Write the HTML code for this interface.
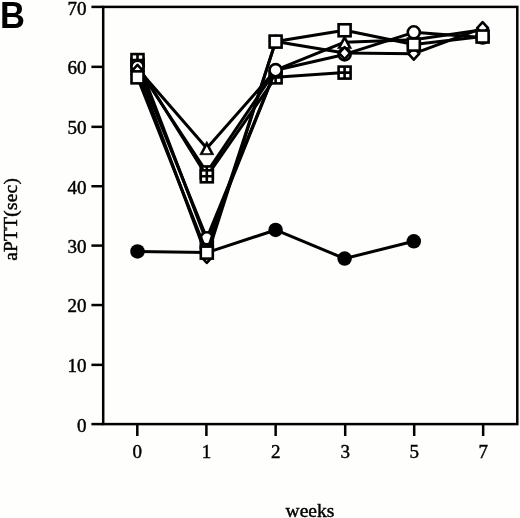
<!DOCTYPE html>
<html><head><meta charset="utf-8"><style>
html,body{margin:0;padding:0;background:#fefefc;}
body{width:520px;height:518px;overflow:hidden;}
svg{display:block;will-change:transform;}
.t{font-family:"Liberation Serif",serif;font-size:19px;fill:#000;stroke:#000;stroke-width:0.45px;}
.yl{font-family:"Liberation Serif",serif;font-size:19.3px;letter-spacing:0.3px;fill:#000;stroke:#000;stroke-width:0.45px;}
.xl{font-family:"Liberation Serif",serif;font-size:19.5px;fill:#000;stroke:#000;stroke-width:0.45px;}
.B{font-family:"Liberation Sans",sans-serif;font-weight:bold;font-size:36px;fill:#000;}
</style></head><body>
<svg width="520" height="518" viewBox="0 0 520 518">
<rect x="103.2" y="6.9" width="414.1" height="417.2" fill="none" stroke="#000" stroke-width="2.5"/>
<line x1="91.4" y1="424.10" x2="103.2" y2="424.10" stroke="#000" stroke-width="2.5"/>
<text x="86.6" y="431.50" text-anchor="end" class="t">0</text>
<line x1="91.4" y1="364.85" x2="103.2" y2="364.85" stroke="#000" stroke-width="2.5"/>
<text x="86.6" y="372.25" text-anchor="end" class="t">10</text>
<line x1="91.4" y1="305.04" x2="103.2" y2="305.04" stroke="#000" stroke-width="2.5"/>
<text x="86.6" y="312.44" text-anchor="end" class="t">20</text>
<line x1="91.4" y1="245.60" x2="103.2" y2="245.60" stroke="#000" stroke-width="2.5"/>
<text x="86.6" y="253.00" text-anchor="end" class="t">30</text>
<line x1="91.4" y1="186.23" x2="103.2" y2="186.23" stroke="#000" stroke-width="2.5"/>
<text x="86.6" y="193.63" text-anchor="end" class="t">40</text>
<line x1="91.4" y1="126.85" x2="103.2" y2="126.85" stroke="#000" stroke-width="2.5"/>
<text x="86.6" y="134.25" text-anchor="end" class="t">50</text>
<line x1="91.4" y1="66.85" x2="103.2" y2="66.85" stroke="#000" stroke-width="2.5"/>
<text x="86.6" y="74.25" text-anchor="end" class="t">60</text>
<line x1="91.4" y1="6.90" x2="103.2" y2="6.90" stroke="#000" stroke-width="2.5"/>
<text x="86.6" y="14.90" text-anchor="end" class="t">70</text>
<line x1="137.30" y1="424.1" x2="137.30" y2="436.0" stroke="#000" stroke-width="2.5"/>
<text x="137.30" y="457.6" text-anchor="middle" class="t">0</text>
<line x1="206.40" y1="424.1" x2="206.40" y2="436.0" stroke="#000" stroke-width="2.5"/>
<text x="206.40" y="457.6" text-anchor="middle" class="t">1</text>
<line x1="275.65" y1="424.1" x2="275.65" y2="436.0" stroke="#000" stroke-width="2.5"/>
<text x="275.65" y="457.6" text-anchor="middle" class="t">2</text>
<line x1="345.20" y1="424.1" x2="345.20" y2="436.0" stroke="#000" stroke-width="2.5"/>
<text x="345.20" y="457.6" text-anchor="middle" class="t">3</text>
<line x1="414.20" y1="424.1" x2="414.20" y2="436.0" stroke="#000" stroke-width="2.5"/>
<text x="414.20" y="457.6" text-anchor="middle" class="t">5</text>
<line x1="483.15" y1="424.1" x2="483.15" y2="436.0" stroke="#000" stroke-width="2.5"/>
<text x="483.15" y="457.6" text-anchor="middle" class="t">7</text>
<polyline points="137.50,251.43 206.80,252.62 275.60,229.97 344.60,258.58 413.80,241.30" fill="none" stroke="#000" stroke-width="3.00" stroke-linejoin="round"/>
<circle cx="137.50" cy="251.43" r="7.25" fill="#000"/>
<circle cx="206.80" cy="252.62" r="7.25" fill="#000"/>
<circle cx="275.60" cy="229.97" r="7.25" fill="#000"/>
<circle cx="344.60" cy="258.58" r="7.25" fill="#000"/>
<circle cx="413.80" cy="241.30" r="7.25" fill="#000"/>
<polyline points="137.50,67.24 206.80,172.45 275.60,70.22" fill="none" stroke="#000" stroke-width="3.00" stroke-linejoin="round"/>
<rect x="200.80" y="166.45" width="12.00" height="12.00" fill="#fff" stroke="#000" stroke-width="2.60"/><path d="M206.80 166.45V178.45M200.80 172.45H212.80" stroke="#000" stroke-width="2.60"/>
<polyline points="137.50,65.03 206.80,176.32 275.60,77.37 344.60,72.60" fill="none" stroke="#000" stroke-width="3.00" stroke-linejoin="round"/>
<rect x="131.50" y="59.03" width="12.00" height="12.00" fill="#fff" stroke="#000" stroke-width="2.60"/><path d="M137.50 59.03V71.03M131.50 65.03H143.50" stroke="#000" stroke-width="2.60"/>
<rect x="200.80" y="170.32" width="12.00" height="12.00" fill="#fff" stroke="#000" stroke-width="2.60"/><path d="M206.80 170.32V182.32M200.80 176.32H212.80" stroke="#000" stroke-width="2.60"/>
<rect x="269.60" y="71.37" width="12.00" height="12.00" fill="#fff" stroke="#000" stroke-width="2.60"/><path d="M275.60 71.37V83.37M269.60 77.37H281.60" stroke="#000" stroke-width="2.60"/>
<rect x="338.60" y="66.60" width="12.00" height="12.00" fill="#fff" stroke="#000" stroke-width="2.60"/><path d="M344.60 66.60V78.60M338.60 72.60H350.60" stroke="#000" stroke-width="2.60"/>
<polyline points="137.50,60.08 206.80,241.89 275.60,70.22" fill="none" stroke="#000" stroke-width="3.00" stroke-linejoin="round"/>
<rect x="131.50" y="54.08" width="12.00" height="12.00" fill="#fff" stroke="#000" stroke-width="2.60"/><path d="M137.50 54.08V66.08M131.50 60.08H143.50" stroke="#000" stroke-width="2.60"/>
<rect x="200.80" y="235.89" width="12.00" height="12.00" fill="#fff" stroke="#000" stroke-width="2.60"/><path d="M206.80 235.89V247.89M200.80 241.89H212.80" stroke="#000" stroke-width="2.60"/>
<polyline points="137.50,68.43 206.80,148.31 275.60,70.22 344.60,42.20 413.80,39.82 482.60,29.68" fill="none" stroke="#000" stroke-width="3.00" stroke-linejoin="round"/>
<path d="M137.50 61.43L144.60 74.83L130.40 74.83Z" fill="#000" stroke="#000" stroke-width="0.6" stroke-linejoin="round"/><path d="M137.50 66.43L141.25 73.43L133.75 73.43Z" fill="#fff"/>
<path d="M206.80 141.31L213.90 154.71L199.70 154.71Z" fill="#000" stroke="#000" stroke-width="0.6" stroke-linejoin="round"/><path d="M206.80 146.31L210.55 153.31L203.05 153.31Z" fill="#fff"/>
<path d="M275.60 63.22L282.70 76.62L268.50 76.62Z" fill="#000" stroke="#000" stroke-width="0.6" stroke-linejoin="round"/><path d="M275.60 68.22L279.35 75.22L271.85 75.22Z" fill="#fff"/>
<path d="M344.60 35.20L351.70 48.60L337.50 48.60Z" fill="#000" stroke="#000" stroke-width="0.6" stroke-linejoin="round"/><path d="M344.60 40.20L348.35 47.20L340.85 47.20Z" fill="#fff"/>
<path d="M413.80 32.82L420.90 46.22L406.70 46.22Z" fill="#000" stroke="#000" stroke-width="0.6" stroke-linejoin="round"/><path d="M413.80 37.82L417.55 44.82L410.05 44.82Z" fill="#fff"/>
<path d="M482.60 22.68L489.70 36.08L475.50 36.08Z" fill="#000" stroke="#000" stroke-width="0.6" stroke-linejoin="round"/><path d="M482.60 27.68L486.35 34.68L478.85 34.68Z" fill="#fff"/>
<polyline points="137.50,66.64 206.80,238.32 275.60,70.22 344.60,54.42 413.80,32.36 482.60,37.43" fill="none" stroke="#000" stroke-width="3.00" stroke-linejoin="round"/>
<circle cx="137.50" cy="66.64" r="6.05" fill="#fff" stroke="#000" stroke-width="2.60"/>
<circle cx="206.80" cy="238.32" r="6.05" fill="#fff" stroke="#000" stroke-width="2.60"/>
<circle cx="275.60" cy="70.22" r="6.05" fill="#fff" stroke="#000" stroke-width="2.60"/>
<circle cx="344.60" cy="54.42" r="6.05" fill="#fff" stroke="#000" stroke-width="2.60"/>
<circle cx="413.80" cy="32.36" r="6.05" fill="#fff" stroke="#000" stroke-width="2.60"/>
<circle cx="482.60" cy="37.43" r="6.05" fill="#fff" stroke="#000" stroke-width="2.60"/>
<polyline points="137.50,70.81 206.80,256.80 275.60,41.60 344.60,53.05 413.80,53.70 482.60,28.19" fill="none" stroke="#000" stroke-width="3.00" stroke-linejoin="round"/>
<path d="M137.50 64.81L143.00 70.81L137.50 76.81L132.00 70.81Z" fill="#fff" stroke="#000" stroke-width="2.60" stroke-linejoin="round"/>
<path d="M206.80 250.80L212.30 256.80L206.80 262.80L201.30 256.80Z" fill="#fff" stroke="#000" stroke-width="2.60" stroke-linejoin="round"/>
<path d="M275.60 35.60L281.10 41.60L275.60 47.60L270.10 41.60Z" fill="#fff" stroke="#000" stroke-width="2.60" stroke-linejoin="round"/>
<path d="M344.60 47.05L350.10 53.05L344.60 59.05L339.10 53.05Z" fill="#fff" stroke="#000" stroke-width="2.60" stroke-linejoin="round"/>
<path d="M413.80 47.70L419.30 53.70L413.80 59.70L408.30 53.70Z" fill="#fff" stroke="#000" stroke-width="2.60" stroke-linejoin="round"/>
<path d="M482.60 22.19L488.10 28.19L482.60 34.19L477.10 28.19Z" fill="#fff" stroke="#000" stroke-width="2.60" stroke-linejoin="round"/>
<polyline points="137.50,77.37 206.80,252.62 275.60,41.60 344.60,30.28 413.80,44.58 482.60,36.54" fill="none" stroke="#000" stroke-width="3.00" stroke-linejoin="round"/>
<rect x="131.50" y="71.37" width="12.00" height="12.00" fill="#fff" stroke="#000" stroke-width="2.60"/>
<rect x="200.80" y="246.62" width="12.00" height="12.00" fill="#fff" stroke="#000" stroke-width="2.60"/>
<rect x="269.60" y="35.60" width="12.00" height="12.00" fill="#fff" stroke="#000" stroke-width="2.60"/>
<rect x="338.60" y="24.28" width="12.00" height="12.00" fill="#fff" stroke="#000" stroke-width="2.60"/>
<rect x="407.80" y="38.58" width="12.00" height="12.00" fill="#fff" stroke="#000" stroke-width="2.60"/>
<rect x="476.60" y="30.54" width="12.00" height="12.00" fill="#fff" stroke="#000" stroke-width="2.60"/>
<text x="-0.13" y="27.8" class="B" transform="scale(0.96,1)">B</text>
<text transform="translate(16.9,260.8) rotate(-90)" class="yl">aPTT(sec)</text>
<text x="285.6" y="516.8" class="xl">weeks</text>
</svg>
</body></html>
